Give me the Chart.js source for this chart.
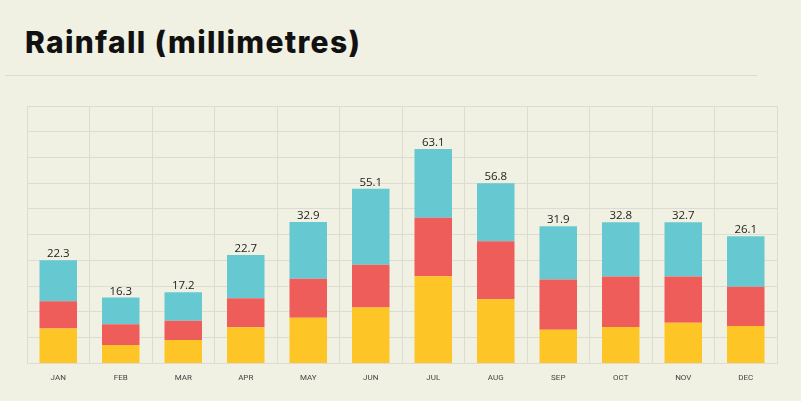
<!DOCTYPE html>
<html>
<head>
<meta charset="utf-8">
<title>Rainfall (millimetres)</title>
<script src="https://cdn.jsdelivr.net/npm/chart.js@4"></script>
<style>
    html, body { margin: 0; padding: 0; background: #f1f1e3; }
    #wrap { position: relative; width: 801px; height: 401px; overflow: hidden; }
    #title { position: absolute; left: 25px; top: 24px; font: 800 30px Inter, sans-serif; color: #111; letter-spacing: 1.3px; }
    #rule { position: absolute; left: 5px; top: 75px; width: 752px; height: 1px; background: #dcdcd1; }
    canvas { position: absolute; left: 0; top: 0; }
</style>
</head>
<body>
<div id="wrap">
    <div id="title">Rainfall (millimetres)</div>
    <div id="rule"></div>
    <canvas id="rainChart" width="801" height="401"></canvas>
</div>
<script>
// months on the x axis
const months = ["JAN", "FEB", "MAR", "APR", "MAY", "JUN", "JUL", "AUG", "SEP", "OCT", "NOV", "DEC"];

// stacked segments, bottom to top (chart units)
const yellowPart = [13.6, 7.1, 9.1, 14.0, 17.7, 21.7, 33.9, 24.9, 13.1, 14.1, 15.8, 14.5];
const redPart    = [10.5, 8.1, 7.5, 11.3, 15.2, 16.6, 22.7, 22.6, 19.5, 19.7, 18.0, 15.3];
const cyanPart   = [16.0, 10.4, 11.0, 16.8, 22.0, 29.6, 26.7, 22.5, 20.7, 21.0, 21.0, 19.6];

// totals printed above each bar
const totals = [22.3, 16.3, 17.2, 22.7, 32.9, 55.1, 63.1, 56.8, 31.9, 32.8, 32.7, 26.1];

const gridColor = '#dcdcd2';

// writes the total above the top segment of every bar
const totalsLabel = {
    id: 'totalsLabel',
    afterDatasetsDraw(chart) {
        const ctx = chart.ctx;
        const meta = chart.getDatasetMeta(chart.data.datasets.length - 1);
        ctx.save();
        ctx.font = '11.5px "Open Sans", sans-serif';
        ctx.fillStyle = '#222';
        ctx.textAlign = 'center';
        ctx.textBaseline = 'alphabetic';
        meta.data.forEach((bar, i) => {
            ctx.fillText(totals[i].toFixed(1), bar.x, bar.y - 3);
        });
        ctx.restore();
    }
};

const ctx = document.getElementById('rainChart').getContext('2d');
new Chart(ctx, {
    type: 'bar',
    data: {
        labels: months,
        datasets: [
            { label: 'Part 1', data: yellowPart, backgroundColor: '#fdc626' },
            { label: 'Part 2', data: redPart, backgroundColor: '#ef5d5a' },
            { label: 'Part 3', data: cyanPart, backgroundColor: '#66c8d1' }
        ]
    },
    options: {
        responsive: false,
        animation: false,
        barPercentage: 0.6,
        categoryPercentage: 1.0,
        layout: {
            padding: { top: 106, left: 27, right: 24, bottom: 8 }
        },
        plugins: {
            legend: { display: false },
            tooltip: { enabled: false }
        },
        scales: {
            x: {
                stacked: true,
                grid: { color: gridColor, drawTicks: false, offset: true },
                border: { color: gridColor },
                ticks: {
                    color: '#444',
                    padding: 10,
                    font: { family: 'Roboto', size: 8 }
                }
            },
            y: {
                stacked: true,
                min: 0,
                max: 100,
                grid: { color: gridColor, drawTicks: false },
                border: { display: false },
                ticks: { display: false, stepSize: 10 }
            }
        }
    },
    plugins: [totalsLabel]
});
</script>
</body>
</html>
